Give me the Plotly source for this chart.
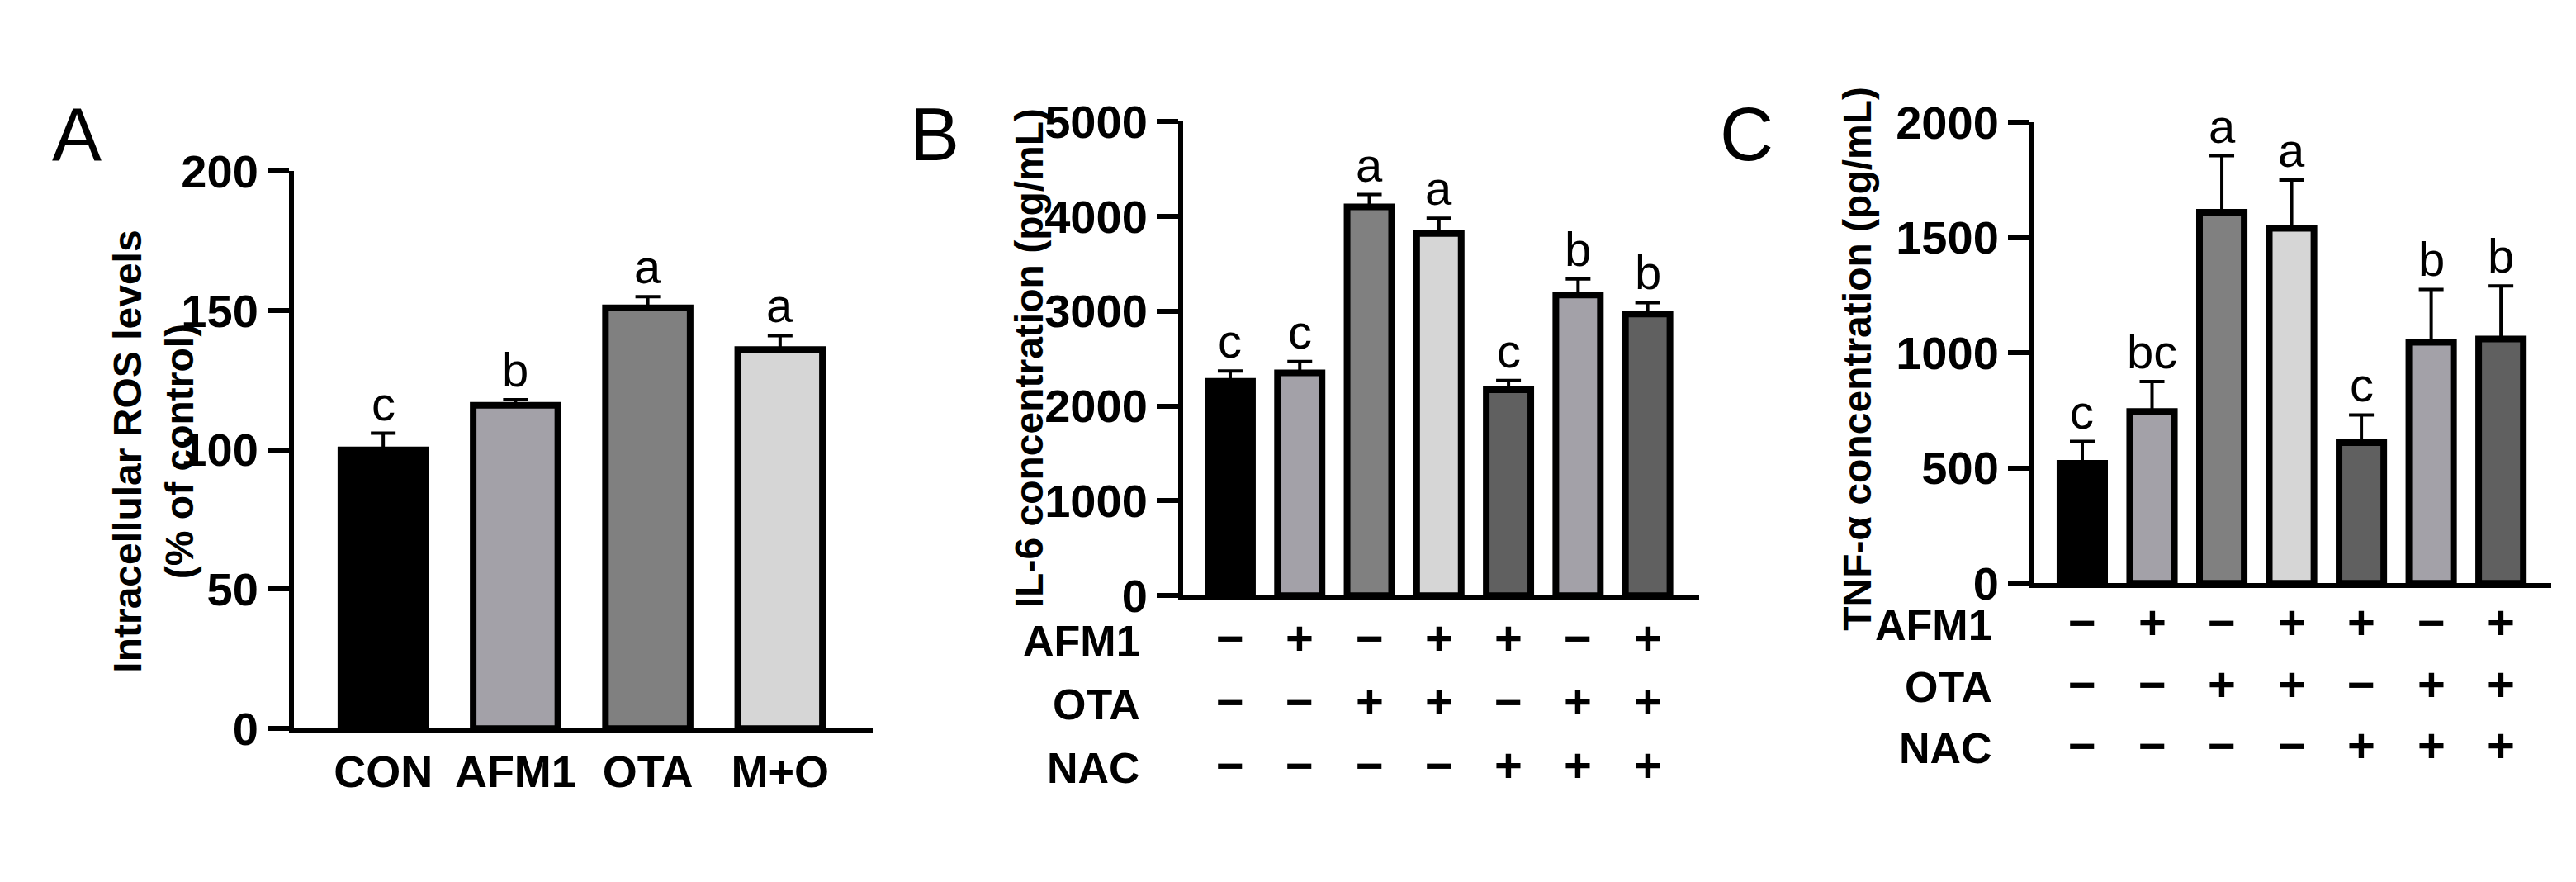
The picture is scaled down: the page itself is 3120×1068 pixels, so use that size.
import plotly.graph_objects as go

W, H = 3120, 1068
# Panel A data
a_cats = ["CON", "AFM1", "OTA", "M+O"]
a_vals = [100, 116, 151, 136]
a_err = [6, 2, 4, 5]
a_letters = ["c", "b", "a", "a"]
a_colors = ["#000000", "#a3a1a8", "#808080", "#d6d6d6"]

# Panels B, C data
bc_colors = ["#000000", "#a3a1a8", "#808080", "#d6d6d6", "#606060", "#a3a1a8", "#606060"]
afm1 = ["−", "+", "−", "+", "+", "−", "+"]
ota = ["−", "−", "+", "+", "−", "+", "+"]
nac = ["−", "−", "−", "−", "+", "+", "+"]
b_vals = [2260, 2350, 4100, 3820, 2170, 3170, 2970]
b_err = [110, 120, 130, 160, 100, 170, 120]
b_letters = ["c", "c", "a", "a", "c", "b", "b"]
c_vals = [520, 745, 1610, 1540, 610, 1045, 1060]
c_err = [95, 130, 245, 210, 120, 230, 230]
c_letters = ["c", "bc", "a", "a", "c", "b", "b"]

FONT = "Liberation Sans, Arial, sans-serif"
fig = go.Figure()

def bars(xs, vals, errs, colors, xa, ya, width):
    fig.add_trace(go.Bar(
        x=xs, y=vals, xaxis=xa, yaxis=ya, width=width,
        marker=dict(color=colors, line=dict(color="black", width=8)),
        error_y=dict(type="data", array=errs, arrayminus=[0]*len(errs), symmetric=False,
                     color="black", thickness=4, width=15),
        showlegend=False, hoverinfo="skip"))

bars(list(range(4)), a_vals, a_err, a_colors, "x", "y", 0.64)
bars(list(range(7)), b_vals, b_err, bc_colors, "x2", "y2", 0.64)
bars(list(range(7)), c_vals, c_err, bc_colors, "x3", "y3", 0.64)

def px(x): return x / W
def py(y): return 1 - y / H

axis_common = dict(showline=True, linecolor="black", linewidth=6, showgrid=False, zeroline=False,
                   ticks="outside", ticklen=26, tickwidth=6, tickcolor="black",
                   tickfont=dict(family=FONT, size=56, color="black"))
xcommon = dict(showline=True, linecolor="black", linewidth=6, showgrid=False, zeroline=False,
               ticks="", tickfont=dict(family=FONT, size=54, color="black"))

fig.update_layout(
    width=W, height=H, margin=dict(l=0, r=0, t=0, b=0),
    plot_bgcolor="white", paper_bgcolor="white",
    xaxis=dict(domain=[px(348), px(1049)], range=[-0.675, 3.70], anchor="y",
               tickvals=list(range(4)), ticktext=["<b>%s</b>" % c for c in a_cats], **xcommon),
    yaxis=dict(domain=[py(896), py(179)], range=[0, 200], anchor="x",
               tickvals=[0, 50, 100, 150, 200], ticktext=["<b>%d</b>" % v for v in [0, 50, 100, 150, 200]],
               **axis_common),
    xaxis2=dict(domain=[px(1425), px(2050)], range=[-0.676, 6.74], anchor="y2",
                showticklabels=False, **{k: v for k, v in xcommon.items() if k != "tickfont"}),
    yaxis2=dict(domain=[py(725), py(115)], range=[0, 5000], anchor="x2",
                tickvals=[0, 1000, 2000, 3000, 4000, 5000],
                ticktext=["<b>%d</b>" % v for v in [0, 1000, 2000, 3000, 4000, 5000]], **axis_common),
    xaxis3=dict(domain=[px(2456), px(3082)], range=[-0.686, 6.72], anchor="y3",
                showticklabels=False, **{k: v for k, v in xcommon.items() if k != "tickfont"}),
    yaxis3=dict(domain=[py(709), py(116)], range=[0, 2000], anchor="x3",
                tickvals=[0, 500, 1000, 1500, 2000],
                ticktext=["<b>%d</b>" % v for v in [0, 500, 1000, 1500, 2000]], **axis_common),
    bargap=0.3,
)

ann = []
def letters(vals, errs, labs, xr, yr):
    for i, (v, e, l) in enumerate(zip(vals, errs, labs)):
        ann.append(dict(x=i, y=v + e, xref=xr, yref=yr, text=l, showarrow=False, yanchor="bottom",
                        yshift=2, font=dict(family=FONT, size=58, color="black")))
letters(a_vals, a_err, a_letters, "x", "y")
letters(b_vals, b_err, b_letters, "x2", "y2")
letters(c_vals, c_err, c_letters, "x3", "y3")

def rows(xr, ys, labx):
    for name, row, y in zip(["AFM1", "OTA", "NAC"], [afm1, ota, nac], ys):
        ann.append(dict(x=px(labx), y=py(y), xref="paper", yref="paper", text="<b>%s</b>" % name,
                        showarrow=False, xanchor="right", font=dict(family=FONT, size=52, color="black")))
        for i, s in enumerate(row):
            ann.append(dict(x=i, y=py(y), xref=xr, yref="paper", text="<b>%s</b>" % s, showarrow=False,
                            font=dict(family=FONT, size=58, color="black")))
rows("x2", [816, 898, 980], 1375)
rows("x3", [796, 876, 954], 2407)

for t, x in [("A", 53), ("B", 1124), ("C", 2142)]:
    ann.append(dict(x=px(x), y=py(77), xref="paper", yref="paper", text=t, showarrow=False,
                    font=dict(family=FONT, size=90, color="black")))

for t, x, y in [("<b>Intracellular ROS levels<br>(% of control)</b>", 118, 540),
                ("<b>IL-6 concentration (pg/mL)</b>", 1238, 420),
                ("<b>TNF-α concentration (pg/mL)</b>", 2270, 420)]:
    ann.append(dict(x=px(x), y=py(y), xref="paper", yref="paper", text=t, showarrow=False,
                    textangle=-90, font=dict(family=FONT, size=48, color="black")))

fig.update_layout(annotations=ann)
fig.write_html("out.html")
